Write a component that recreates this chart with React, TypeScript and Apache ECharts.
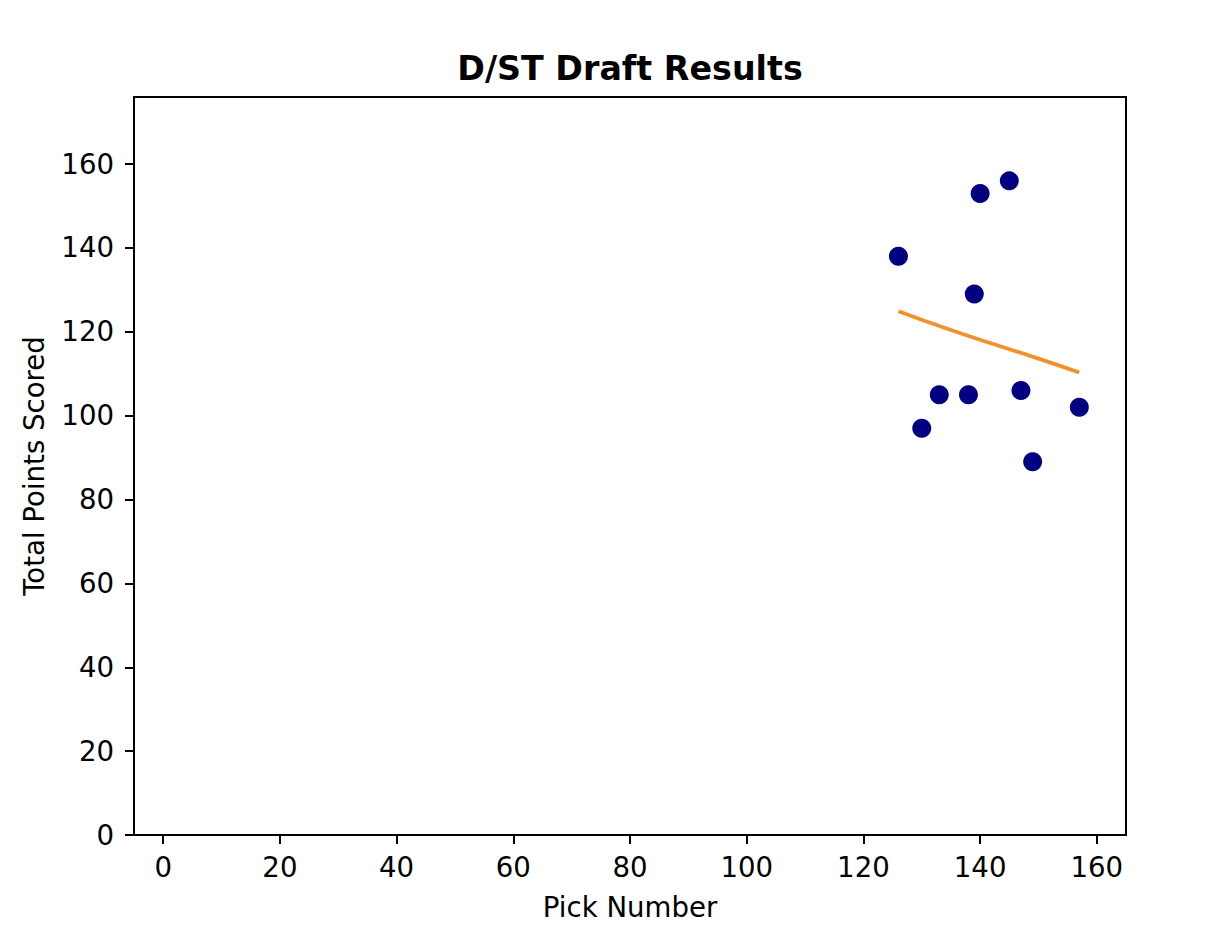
import React, { useEffect, useRef } from "react";
import * as echarts from "echarts";

const pickNumbers = [126, 130, 133, 138, 139, 140, 145, 147, 149, 157];
const totalPoints = [138, 97, 105, 105, 129, 153, 156, 106, 89, 102];
const trendX = [126, 134, 142, 150, 157];
const trendY = [124.9, 120.9, 117.2, 113.6, 110.3];
const xTicks = [0, 20, 40, 60, 80, 100, 120, 140, 160];
const yTicks = [0, 20, 40, 60, 80, 100, 120, 140, 160];

export default function App() {
  const ref = useRef<HTMLDivElement>(null);
  useEffect(() => {
    document.body.style.margin = "0";
    const chart = echarts.init(ref.current!, null, { renderer: "svg" });
    const font = "DejaVu Sans";
    const fs = 27.6;
    chart.setOption({
      animation: false,
      backgroundColor: "#ffffff",
      title: {
        text: "D/ST Draft Results",
        left: 625,
        top: 47,
        textAlign: "center",
        textStyle: { fontFamily: font, fontSize: 33.3, fontWeight: "bold", color: "#000" },
      },
      grid: {
        left: 134,
        right: 104,
        top: 97,
        bottom: 95,
        show: true,
        borderColor: "#000",
        borderWidth: 2,
        backgroundColor: "transparent",
      },
      xAxis: {
        type: "value",
        min: -5,
        max: 165,
        name: "Pick Number",
        nameLocation: "middle",
        nameGap: 58,
        nameTextStyle: { fontFamily: font, fontSize: fs, color: "#000" },
        splitLine: { show: false },
        axisLine: { show: true, onZero: false, lineStyle: { color: "#000", width: 2 } },
        axisTick: { show: true, length: 9, lineStyle: { color: "#000", width: 2 }, customValues: xTicks },
        axisLabel: { fontFamily: font, fontSize: fs, color: "#000", margin: 18, customValues: xTicks },
      },
      yAxis: {
        type: "value",
        min: 0,
        max: 176,
        name: "Total Points Scored",
        nameLocation: "middle",
        nameGap: 86,
        nameTextStyle: { fontFamily: font, fontSize: fs, color: "#000" },
        splitLine: { show: false },
        axisLine: { show: true, onZero: false, lineStyle: { color: "#000", width: 2 } },
        axisTick: { show: true, length: 9, lineStyle: { color: "#000", width: 2 }, customValues: yTicks },
        axisLabel: { fontFamily: font, fontSize: fs, color: "#000", margin: 20, customValues: yTicks },
      },
      series: [
        {
          type: "line",
          data: trendX.map((x, i) => [x, trendY[i]]),
          smooth: true,
          showSymbol: false,
          lineStyle: { color: "#f0922b", width: 3.8 },
          z: 2,
        },
        {
          type: "scatter",
          data: pickNumbers.map((x, i) => [x, totalPoints[i]]),
          symbolSize: 19,
          itemStyle: { color: "#000080", opacity: 1 },
          z: 3,
        },
      ],
    });
    return () => chart.dispose();
  }, []);
  return <div ref={ref} style={{ position: "absolute", left: 0, top: 0, width: 1230, height: 930 }} />;
}
